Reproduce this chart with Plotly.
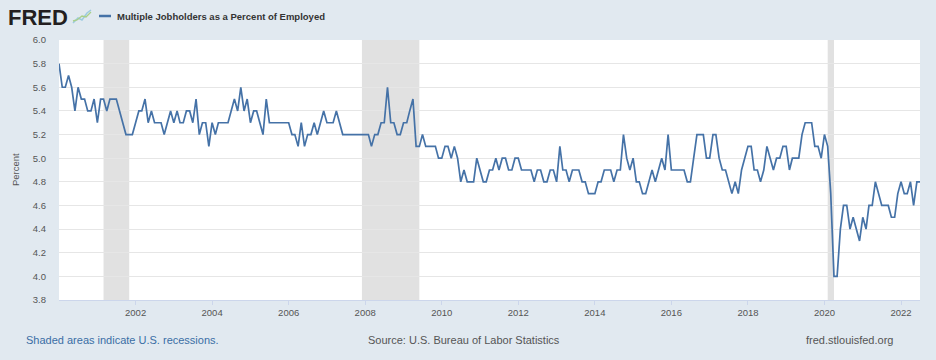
import pandas as pd
import plotly.graph_objects as go

# Monthly values (percent), Jan 2000 .. Jul 2022
y2000 = [5.8, 5.6, 5.6, 5.7, 5.6, 5.4, 5.6, 5.5, 5.5, 5.4, 5.4, 5.5]
y2001 = [5.3, 5.5, 5.5, 5.4, 5.5, 5.5, 5.5, 5.4, 5.3, 5.2, 5.2, 5.2]
y2002 = [5.3, 5.4, 5.4, 5.5, 5.3, 5.4, 5.3, 5.3, 5.3, 5.2, 5.3, 5.4]
y2003 = [5.3, 5.4, 5.3, 5.3, 5.4, 5.4, 5.3, 5.5, 5.2, 5.3, 5.3, 5.1]
y2004 = [5.3, 5.2, 5.3, 5.3, 5.3, 5.3, 5.4, 5.5, 5.4, 5.6, 5.4, 5.5]
y2005 = [5.3, 5.4, 5.4, 5.3, 5.2, 5.5, 5.3, 5.3, 5.3, 5.3, 5.3, 5.3]
y2006 = [5.3, 5.2, 5.2, 5.1, 5.3, 5.1, 5.2, 5.2, 5.3, 5.2, 5.3, 5.4]
y2007 = [5.3, 5.3, 5.3, 5.4, 5.3, 5.2, 5.2, 5.2, 5.2, 5.2, 5.2, 5.2]
y2008 = [5.2, 5.2, 5.1, 5.2, 5.2, 5.3, 5.3, 5.6, 5.3, 5.3, 5.2, 5.2]
y2009 = [5.3, 5.3, 5.4, 5.5, 5.1, 5.1, 5.2, 5.1, 5.1, 5.1, 5.1, 5.0]
y2010 = [5.0, 5.1, 5.1, 5.0, 5.1, 5.0, 4.8, 4.9, 4.8, 4.8, 4.8, 5.0]
y2011 = [4.9, 4.8, 4.8, 4.9, 4.9, 5.0, 4.9, 5.0, 5.0, 4.9, 4.9, 5.0]
y2012 = [5.0, 4.9, 4.9, 4.9, 4.9, 4.8, 4.9, 4.9, 4.8, 4.8, 4.9, 4.9]
y2013 = [4.8, 5.1, 4.9, 4.9, 4.8, 4.9, 4.9, 4.9, 4.8, 4.8, 4.7, 4.7]
y2014 = [4.7, 4.8, 4.8, 4.9, 4.9, 4.9, 4.8, 4.9, 4.9, 5.2, 5.0, 4.9]
y2015 = [5.0, 4.8, 4.8, 4.7, 4.7, 4.8, 4.9, 4.8, 4.9, 5.0, 4.9, 5.2]
y2016 = [4.9, 4.9, 4.9, 4.9, 4.9, 4.8, 4.8, 5.0, 5.2, 5.2, 5.2, 5.0]
y2017 = [5.0, 5.2, 5.2, 5.0, 4.9, 4.9, 4.8, 4.7, 4.8, 4.7, 4.9, 5.0]
y2018 = [5.1, 5.1, 4.9, 4.9, 4.8, 4.9, 5.1, 5.0, 4.9, 5.0, 5.0, 5.1]
y2019 = [5.1, 4.9, 5.0, 5.0, 5.0, 5.2, 5.3, 5.3, 5.3, 5.1, 5.1, 5.0]
y2020 = [5.2, 5.1, 4.7, 4.0, 4.0, 4.4, 4.6, 4.6, 4.4, 4.5, 4.4, 4.3]
y2021 = [4.5, 4.4, 4.6, 4.6, 4.8, 4.7, 4.6, 4.6, 4.6, 4.5, 4.5, 4.7]
y2022 = [4.8, 4.7, 4.7, 4.8, 4.6, 4.8, 4.8]

values = (y2000 + y2001 + y2002 + y2003 + y2004 + y2005 + y2006 + y2007 +
          y2008 + y2009 + y2010 + y2011 + y2012 + y2013 + y2014 + y2015 +
          y2016 + y2017 + y2018 + y2019 + y2020 + y2021 + y2022)
dates = pd.date_range("2000-01-01", periods=len(values), freq="MS")

recession_starts = ["2001-03-01", "2007-12-01", "2020-02-01"]
recession_ends = ["2001-11-01", "2009-06-01", "2020-04-01"]

y_ticks = [3.8, 4.0, 4.2, 4.4, 4.6, 4.8, 5.0, 5.2, 5.4, 5.6, 5.8, 6.0]
x_ticks = [f"{y}-01-01" for y in range(2002, 2023, 2)]
x_labels = [str(y) for y in range(2002, 2023, 2)]

series_name = "Multiple Jobholders as a Percent of Employed"

W, H = 936, 360
L, R, T, B = 59, 16, 40, 60
PW, PH = W - L - R, H - T - B


def px(x):
    return (x - L) / PW


def py(y):
    return (H - B - y) / PH


FONT = "Liberation Sans, Arial, sans-serif"
LINE_COLOR = "#4572a7"

fig = go.Figure()
fig.add_trace(go.Scatter(
    x=dates, y=values, mode="lines", name=series_name,
    line=dict(color=LINE_COLOR, width=1.7),
    hoverinfo="x+y", showlegend=False,
))

shapes = []
for s, e in zip(recession_starts, recession_ends):
    shapes.append(dict(type="rect", xref="x", yref="paper", x0=s, x1=e, y0=0, y1=1,
                       fillcolor="#e1e1e1", line=dict(width=0), layer="below"))

# legend swatch
shapes.append(dict(type="line", xref="paper", yref="paper",
                   x0=px(99), x1=px(111), y0=py(16), y1=py(16),
                   line=dict(color=LINE_COLOR, width=2.5)))
# small FRED chart icon
shapes.append(dict(type="path", xref="paper", yref="paper",
                   path=f"M {px(73)},{py(23)} L {px(78)},{py(18)} L {px(82)},{py(20)} L {px(87)},{py(13)} L {px(91)},{py(10)}",
                   line=dict(color="#9ccbe0", width=1.5)))
shapes.append(dict(type="path", xref="paper", yref="paper",
                   path=f"M {px(73)},{py(21)} L {px(77)},{py(20)} L {px(82)},{py(16)} L {px(86)},{py(17)} L {px(91)},{py(12)}",
                   line=dict(color="#a8cf8a", width=1.3)))

annotations = [
    dict(text="<b>FRED</b>", xref="paper", yref="paper", x=px(6), y=py(17),
         xanchor="left", yanchor="middle", showarrow=False,
         font=dict(family=FONT, size=22, color="#231f20")),
    dict(text=f"<b>{series_name}</b>", xref="paper", yref="paper", x=px(115), y=py(16),
         xanchor="left", yanchor="middle", showarrow=False,
         font=dict(family=FONT, size=9.5, color="#333333")),
    dict(text="Percent", xref="paper", yref="paper", x=px(15), y=py(170),
         xanchor="center", yanchor="middle", showarrow=False, textangle=-90,
         font=dict(family=FONT, size=9.5, color="#555555")),
    dict(text="Shaded areas indicate U.S. recessions.", xref="paper", yref="paper",
         x=px(24), y=py(340), xanchor="left", yanchor="middle", showarrow=False,
         font=dict(family=FONT, size=11, color="#3a6ea5")),
    dict(text="Source: U.S. Bureau of Labor Statistics", xref="paper", yref="paper",
         x=px(464), y=py(340), xanchor="center", yanchor="middle", showarrow=False,
         font=dict(family=FONT, size=11, color="#555555")),
    dict(text="fred.stlouisfed.org", xref="paper", yref="paper",
         x=px(895), y=py(340), xanchor="right", yanchor="middle", showarrow=False,
         font=dict(family=FONT, size=11, color="#555555")),
]

fig.update_layout(
    width=W, height=H,
    margin=dict(l=L, r=R, t=T, b=B, pad=0),
    paper_bgcolor="#e1e9f0",
    plot_bgcolor="#ffffff",
    font=dict(family=FONT, size=9.5, color="#555555"),
    shapes=shapes,
    annotations=annotations,
    xaxis=dict(
        type="date",
        range=["2000-01-01", "2022-07-01"],
        tickvals=x_ticks, ticktext=x_labels,
        showgrid=False, zeroline=False,
        showline=True, linecolor="#ccd6eb", linewidth=1,
        ticks="outside", ticklen=4, tickcolor="#ccd6eb",
        tickfont=dict(family=FONT, size=9.5, color="#555555"),
    ),
    yaxis=dict(
        range=[3.8, 6.0],
        tickvals=y_ticks, tickformat=".1f",
        showgrid=True, gridcolor="#e6e6e6", gridwidth=1,
        zeroline=False, showline=False,
        ticks="", ticklabelstandoff=12,
        tickfont=dict(family=FONT, size=9.5, color="#555555"),
    ),
)

fig.write_html("out.html", config={"displayModeBar": False},
               post_script="document.body.style.margin='0px';")
